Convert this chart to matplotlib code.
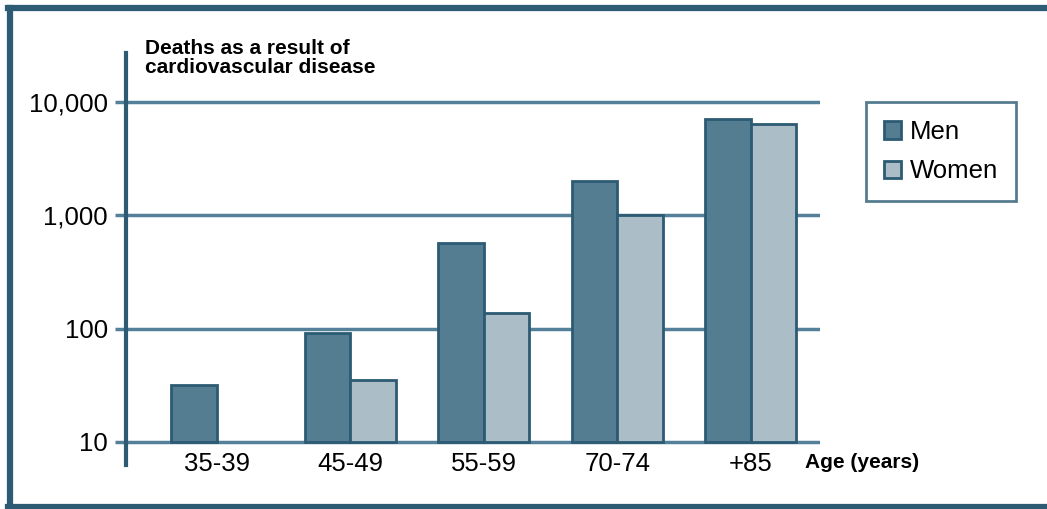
import matplotlib
matplotlib.use("Agg")
import matplotlib.pyplot as plt
from matplotlib.patches import Rectangle
from matplotlib.lines import Line2D
import numpy as np

plt.rcParams['font.family'] = ['Liberation Sans', 'DejaVu Sans']

categories = ["35-39", "45-49", "55-59", "70-74", "+85"]
men = [32, 92, 570, 2000, 7100]
women = [np.nan, 35, 138, 1000, 6400]
yticks = [10, 100, 1000, 10000]
ytick_labels = ["10", "100", "1,000", "10,000"]

DARK = "#2c5b73"
GRID = "#55809a"
MEN_C = "#557d91"
WOMEN_C = "#abbec8"

fig = plt.figure(figsize=(10.47, 5.09), dpi=100)
W, H = 1047, 509

# Outer frame (left, top, bottom)
fig.add_artist(Line2D([10/W, 10/W], [1 - 8/H, 1 - 507/H], color=DARK, lw=4.5, transform=fig.transFigure))
fig.add_artist(Line2D([8/W, 1.0], [1 - 8/H, 1 - 8/H], color=DARK, lw=4.5, transform=fig.transFigure))
fig.add_artist(Line2D([8/W, 1.0], [1 - 507/H, 1 - 507/H], color=DARK, lw=4.5, transform=fig.transFigure))

ax = fig.add_axes([126/W, 1 - 465/H, (820 - 126)/W, (465 - 53)/H])
ax.set_yscale('log')
ax.set_ylim(10**0.797, 10**4.433)
ax.set_xlim(-0.68, 4.52)

x = np.arange(len(categories))
bw = 0.34
for yv in yticks:
    ax.axhline(yv, color=GRID, lw=2.5, zorder=1)

base = 10
ax.bar(x - bw/2, np.array(men) - base, bottom=base, width=bw, color=MEN_C, edgecolor=DARK,
       linewidth=2, zorder=3, label="Men")
ax.bar(x + bw/2, np.array(women) - base, bottom=base, width=bw, color=WOMEN_C, edgecolor=DARK,
       linewidth=2, zorder=3, label="Women")

for s in ['top', 'right', 'bottom']:
    ax.spines[s].set_visible(False)
ax.spines['left'].set_color(DARK)
ax.spines['left'].set_linewidth(3)

ax.set_yticks(yticks)
ax.set_yticklabels(ytick_labels, fontsize=18.5)
ax.minorticks_off()
ax.tick_params(axis='y', length=8, width=2.5, color=GRID, pad=5)
ax.set_xticks(x)
ax.set_xticklabels(categories, fontsize=18.5)
ax.tick_params(axis='x', length=0, pad=-9.5)

fig.text(145/W, 1 - 58/H, "Deaths as a result of\ncardiovascular disease", fontsize=15,
         fontweight='bold', ha='left', va='center', linespacing=0.95)
fig.text(805/W, 1 - 463/H, "Age (years)", fontsize=15, fontweight='bold', ha='left', va='center')

leg = fig.legend(handles=[Rectangle((0, 0), 1, 1, facecolor=MEN_C, edgecolor=DARK, lw=2),
                          Rectangle((0, 0), 1, 1, facecolor=WOMEN_C, edgecolor=DARK, lw=2)],
                 labels=["Men", "Women"], loc='upper left',
                 bbox_to_anchor=(866/W, 1 - 102/H), fontsize=18.5, frameon=True,
                 fancybox=False, handlelength=0.65, handleheight=0.65, handletextpad=0.35,
                 borderpad=0.7, labelspacing=0.6, borderaxespad=0)
leg.get_frame().set_edgecolor(DARK)
leg.get_frame().set_linewidth(2)

fig.savefig("out.png", dpi=100)
